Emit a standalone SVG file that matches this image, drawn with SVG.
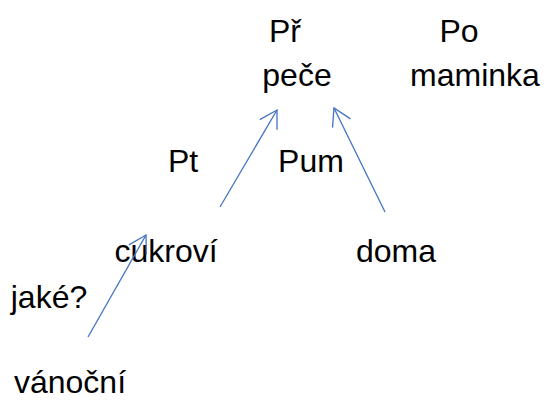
<svg xmlns="http://www.w3.org/2000/svg" width="550" height="403" viewBox="0 0 550 403">
<style>
text{font-family:"Liberation Sans",Arial,sans-serif;font-size:32px;fill:#000;text-anchor:middle}
.c line{stroke:#4472C4;stroke-width:1.3;fill:none}
</style>
<defs>
<marker id="ah" markerUnits="userSpaceOnUse" markerWidth="30" markerHeight="30" refX="20" refY="11" orient="auto" viewBox="0 0 30 30">
<polyline points="3,1 20,11 3,21" fill="none" stroke="#4472C4" stroke-width="1.3"/>
</marker>
</defs>
<rect width="550" height="403" fill="#fff"/>
<g id="n-pr"><text x="285" y="42">Př</text></g>
<g id="n-pece"><text x="297" y="86">peče</text></g>
<g id="n-po"><text x="459" y="42">Po</text></g>
<g id="n-maminka"><text x="475" y="86">maminka</text></g>
<g id="n-pt"><text x="183" y="172">Pt</text></g>
<g id="n-pum"><text x="311" y="172">Pum</text></g>
<g id="n-cukrovi"><text x="166" y="262">cukroví</text></g>
<g id="n-doma"><text x="396" y="262">doma</text></g>
<g id="n-jake"><text x="49" y="308" font-size="30">jaké?</text></g>
<g id="n-vanocni"><text x="70" y="393">vánoční</text></g>
<g class="c" id="connectors">
<line x1="220" y1="207" x2="277" y2="110" marker-end="url(#ah)"/>
<line x1="385" y1="212" x2="334" y2="108" marker-end="url(#ah)"/>
<line x1="88" y1="337" x2="146" y2="235" marker-end="url(#ah)"/>
</g>
</svg>
